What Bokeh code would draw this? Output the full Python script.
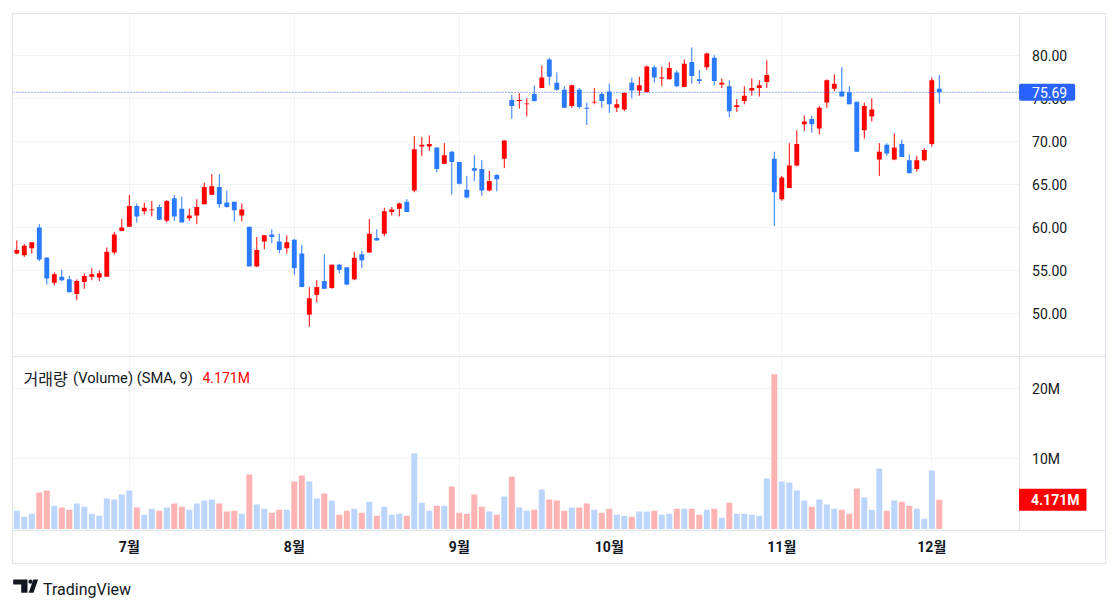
from bokeh.plotting import figure
from bokeh.models import (Range1d, FixedTicker, NumeralTickFormatter, Label, ColumnDataSource,
                          LinearAxis, Grid)
from bokeh.layouts import column
from bokeh.embed import file_html
from bokeh.resources import INLINE
from bokeh.core.properties import value

# ---- data ----
opens = [57.0, 56.8, 57.6, 60.0, 56.5, 53.6, 54.3, 54.0, 52.3, 53.7,
         54.3, 54.2, 54.3, 57.1, 59.6, 60.1, 62.5, 61.9, 62.0, 62.4,
         60.8, 63.4, 62.2, 61.1, 61.4, 62.7, 63.8, 64.7, 62.9, 63.0,
         61.4, 60.1, 55.5, 58.4, 59.2, 58.4, 57.6, 58.6, 57.0, 49.9,
         52.2, 53.8, 53.0, 55.7, 55.4, 54.0, 56.9, 57.1, 58.8, 59.3,
         61.8, 62.2, 63.0, 64.3, 69.4, 69.4, 69.3, 67.4, 68.8, 67.6,
         64.4, 66.9, 66.8, 64.3, 66.1, 68.0, 74.8, 74.7, 74.3, 75.5,
         76.2, 79.5, 76.8, 76.0, 74.1, 76.0, 73.9, 74.5, 75.5, 75.8,
         73.9, 73.7, 76.8, 75.9, 75.7, 78.6, 77.3, 77.2, 78.0, 76.3,
         79.2, 77.2, 78.6, 79.7, 76.6, 76.4, 74.0, 74.7, 75.9, 76.2,
         76.9, 68.0, 63.3, 64.6, 67.2, 72.0, 72.6, 71.5, 74.5, 76.1,
         75.8, 75.7, 74.6, 71.3, 72.9, 67.9, 69.6, 67.9, 69.7, 67.8,
         66.8, 67.8, 69.7, 76.1]
highs = [58.5, 58.1, 58.3, 60.4, 56.6, 54.8, 55.1, 54.4, 54.0, 54.7,
         55.3, 55.0, 57.7, 59.5, 61.0, 63.8, 62.8, 62.9, 63.1, 62.7,
         63.2, 63.8, 63.6, 62.2, 63.3, 65.2, 66.2, 66.2, 64.3, 63.0,
         62.8, 60.1, 58.9, 59.1, 59.8, 59.3, 59.1, 58.7, 58.0, 53.1,
         53.9, 56.9, 55.7, 55.8, 55.4, 57.2, 57.3, 61.0, 59.8, 62.3,
         62.4, 62.9, 63.3, 70.6, 70.5, 70.7, 69.3, 69.8, 68.9, 67.6,
         66.0, 68.4, 67.8, 66.6, 66.2, 70.1, 75.4, 75.6, 75.0, 76.5,
         78.8, 79.7, 78.0, 76.4, 76.6, 76.2, 74.5, 76.2, 75.7, 76.7,
         74.9, 75.7, 77.4, 77.5, 78.8, 78.8, 78.7, 79.2, 78.2, 79.5,
         80.9, 78.3, 80.3, 80.0, 77.3, 77.1, 74.9, 76.4, 77.3, 77.1,
         79.4, 68.8, 66.0, 69.8, 71.3, 73.0, 73.0, 74.1, 77.2, 77.8,
         78.6, 76.4, 74.6, 74.5, 75.0, 69.8, 69.8, 70.9, 70.2, 68.5,
         68.3, 69.2, 77.4, 77.7]
lows = [56.9, 56.6, 57.0, 56.1, 53.4, 53.3, 53.8, 52.5, 51.6, 52.9,
        53.9, 53.8, 54.3, 56.9, 59.6, 60.1, 60.6, 61.5, 61.3, 60.9,
        60.6, 60.8, 60.6, 60.8, 60.4, 62.7, 63.8, 62.3, 62.3, 60.7,
        60.7, 55.5, 55.4, 57.5, 58.2, 57.0, 57.0, 54.5, 53.1, 48.5,
        51.3, 52.9, 52.9, 54.7, 53.3, 53.9, 55.3, 57.1, 58.5, 59.0,
        61.4, 61.3, 61.8, 64.1, 68.3, 68.9, 66.4, 67.4, 63.8, 65.0,
        63.4, 65.4, 63.7, 64.2, 64.2, 66.9, 72.6, 73.8, 72.9, 74.6,
        76.2, 76.5, 75.9, 73.9, 73.9, 73.8, 71.9, 74.3, 73.9, 73.3,
        73.4, 73.5, 75.0, 75.3, 75.7, 76.8, 76.4, 77.2, 76.3, 76.3,
        76.7, 76.7, 78.3, 76.5, 76.2, 72.8, 73.4, 74.3, 75.3, 75.2,
        76.2, 60.2, 63.1, 64.6, 67.1, 71.2, 71.0, 70.8, 73.9, 75.8,
        75.2, 74.3, 68.8, 70.3, 72.3, 66.0, 68.3, 67.8, 68.2, 66.3,
        66.5, 67.7, 69.4, 74.4]
closes = [57.4, 57.9, 58.3, 56.3, 54.1, 54.6, 53.9, 52.5, 53.8, 54.4,
          54.6, 54.7, 57.2, 59.2, 60.0, 62.5, 61.3, 62.3, 62.1, 60.9,
          63.1, 61.3, 60.6, 61.4, 62.4, 64.7, 64.8, 62.7, 62.4, 62.0,
          62.1, 55.5, 57.4, 59.1, 58.9, 57.4, 58.3, 55.3, 53.1, 51.8,
          53.1, 52.9, 55.7, 55.1, 53.4, 56.5, 56.2, 59.3, 58.5, 61.9,
          62.1, 62.8, 61.8, 69.1, 69.6, 69.7, 66.8, 68.4, 67.6, 65.1,
          63.5, 66.6, 64.3, 65.4, 65.6, 70.1, 74.1, 74.8, 74.4, 74.7,
          77.4, 77.5, 76.0, 73.9, 76.5, 74.0, 73.8, 74.6, 74.7, 74.3,
          74.3, 75.6, 75.9, 76.5, 78.7, 77.4, 77.4, 78.5, 76.4, 79.0,
          77.6, 77.0, 80.2, 77.0, 76.8, 73.5, 74.2, 75.3, 76.2, 76.5,
          77.7, 64.1, 65.8, 67.2, 69.7, 72.3, 72.0, 73.9, 77.1, 76.7,
          75.2, 74.3, 68.8, 74.1, 73.7, 68.8, 68.6, 69.3, 68.2, 66.3,
          67.8, 69.0, 77.1, 75.69]
volumes_m = [2.62, 1.76, 2.19, 5.19, 5.48, 3.33, 3.05, 2.76, 3.62, 3.19,
             2.19, 1.90, 4.33, 4.19, 4.90, 5.48, 3.05, 2.05, 2.90, 2.62,
             3.05, 3.62, 3.19, 2.76, 3.62, 4.05, 4.19, 3.62, 2.48, 2.62,
             2.19, 7.76, 3.48, 2.90, 2.33, 2.76, 2.76, 6.76, 7.62, 6.76,
             4.33, 5.05, 4.05, 2.05, 2.62, 2.90, 2.33, 3.90, 1.90, 3.19,
             2.05, 2.19, 1.90, 10.76, 3.76, 2.62, 3.33, 3.33, 6.05, 2.33,
             2.19, 4.90, 3.19, 2.48, 2.05, 4.62, 7.48, 3.05, 2.62, 2.76,
             5.62, 4.19, 4.05, 2.62, 3.05, 3.05, 3.62, 2.76, 2.33, 2.90,
             2.05, 1.90, 1.76, 2.48, 2.48, 2.62, 2.05, 2.19, 2.90, 2.90,
             2.90, 2.05, 2.76, 2.90, 1.62, 3.76, 2.19, 2.19, 2.05, 1.90,
             7.19, 22.05, 6.76, 6.62, 5.48, 4.05, 3.19, 4.19, 3.48, 2.90,
             2.76, 2.19, 5.76, 4.48, 2.76, 8.62, 2.62, 4.05, 3.90, 3.33,
             2.90, 1.48, 8.33, 4.171]
month_ticks = [15, 37, 59, 79, 102, 122]
month_labels = ["7월", "8월", "9월", "10월", "11월", "12월"]
price_ticks = [50, 55, 60, 65, 70, 75, 80]
volume_ticks = [10, 20]
volume_tick_labels = ["10M", "20M"]
last_price = 75.69
last_volume = 4.171
legend_name = "거래량"
legend_detail = "(Volume) (SMA, 9)"
legend_value = "4.171M"

# ---- styles ----
UP = "#ff0000"
DOWN = "#2a7aff"
VUP = "#bcd5fc"
VDOWN = "#ffb3b3"
GRID = "#f0f3fa"
BORDER = "#e0e3eb"
TEXT = "#131722"
FONT = "Roboto, 'Noto Sans CJK KR'"

n = len(opens)
xs = list(range(n))
is_up = [c >= o for o, c in zip(opens, closes)]
src = ColumnDataSource(dict(
    x=xs, o=opens, h=highs, l=lows, c=closes,
    top=[max(o, c) for o, c in zip(opens, closes)],
    bottom=[min(o, c) for o, c in zip(opens, closes)],
    color=[UP if u else DOWN for u in is_up],
    vol=volumes_m,
    vcolor=[VUP if u else VDOWN for u in is_up],
))

# x scale: frame spans the whole chart incl. the price-scale strip on the right
xr = Range1d(-0.44, 145.16)
scale_x = 133.63  # where the price scale starts (right edge of the plotting area)
has_cross = "cross_bounds" in Grid.properties()


def style_value_axis(ax):
    ax.axis_line_color = BORDER
    ax.major_tick_line_color = None
    ax.minor_tick_line_color = None
    ax.major_tick_out = 0
    ax.major_tick_in = 0
    ax.major_label_standoff = 13
    ax.major_label_text_font = "Roboto"
    ax.major_label_text_font_size = "14px"
    ax.major_label_text_color = TEXT


def hgrid(fig, ticks):
    for g in fig.ygrid:
        g.ticker = FixedTicker(ticks=ticks)
        if g.axis is not None:
            g.axis.ticker = FixedTicker(ticks=ticks)
        g.grid_line_color = GRID
        if has_cross:
            g.cross_bounds = (xr.start, scale_x)
    if not has_cross:
        for g in fig.ygrid:
            g.visible = False
        fig.segment(x0=[xr.start] * len(ticks), x1=[scale_x] * len(ticks), y0=ticks, y1=ticks,
                    line_color=GRID, line_width=1)


def vgrid(fig):
    for g in fig.xgrid:
        g.ticker = FixedTicker(ticks=month_ticks)
        if g.axis is not None:
            g.axis.ticker = FixedTicker(ticks=month_ticks)
        g.grid_line_color = GRID


# ---- price pane ----
p = figure(width=1092, height=342, x_range=xr, y_range=Range1d(45.05, 84.72),
           output_backend="svg", toolbar_location=None,
           x_axis_location=None, y_axis_location=None,
           min_border_left=0, min_border_right=0, min_border_top=0, min_border_bottom=0,
           outline_line_color=None, background_fill_color="white", border_fill_color="white")
vgrid(p)
hgrid(p, price_ticks)
ya = LinearAxis(ticker=FixedTicker(ticks=price_ticks), formatter=NumeralTickFormatter(format="0.00"),
                fixed_location=scale_x)
style_value_axis(ya)
p.add_layout(ya, "right")

p.segment(x0="x", y0="l", x1="x", y1="h", line_color="color", line_width=1, source=src)
p.vbar(x="x", width=0.65, top="top", bottom="bottom", fill_color="color", line_color=None, source=src)

p.segment(x0=[xr.start], x1=[scale_x], y0=[last_price], y1=[last_price],
          line_color="#2962ff", line_dash="1 2", line_width=1)
p.add_layout(Label(x=scale_x, y=last_price, x_units="data", y_units="data", text=f"{last_price:.2f}",
                   text_color="white", text_font="Roboto", text_font_size="14px",
                   text_align="left", text_baseline="middle",
                   background_fill_color="#2962ff", padding=(13, 8, 3, 3), border_radius=2))

# ---- volume pane ----
v = figure(width=1092, height=207, x_range=xr, y_range=Range1d(-0.21, 24.43),
           output_backend="svg", toolbar_location=None,
           x_axis_location="below", y_axis_location=None,
           min_border_left=0, min_border_right=0, min_border_top=0, min_border_bottom=34,
           outline_line_color=None, background_fill_color="white", border_fill_color="white",
           styles={"border-top": f"1px solid {BORDER}"})
vgrid(v)
hgrid(v, volume_ticks)
xa = v.xaxis[0]
xa.ticker = FixedTicker(ticks=month_ticks)
xa.major_label_overrides = {t: lbl for t, lbl in zip(month_ticks, month_labels)}
xa.axis_line_color = BORDER
xa.major_tick_line_color = None
xa.minor_tick_line_color = None
xa.major_tick_out = 0
xa.major_label_standoff = 8
xa.major_label_text_font = FONT
xa.major_label_text_font_style = "bold"
xa.major_label_text_font_size = "14px"
xa.major_label_text_color = TEXT
vya = LinearAxis(ticker=FixedTicker(ticks=volume_ticks), fixed_location=scale_x)
vya.major_label_overrides = {t: lbl for t, lbl in zip(volume_ticks, volume_tick_labels)}
style_value_axis(vya)
v.add_layout(vya, "right")

v.vbar(x="x", width=0.8, top="vol", bottom=0, fill_color="vcolor", line_color=None, source=src)

v.add_layout(Label(x=10, y=153, x_units="screen", y_units="screen", text=legend_name,
                   text_color=TEXT, text_font="Noto Sans CJK KR", text_font_size="16px",
                   text_align="left", text_baseline="middle"))
v.add_layout(Label(x=59.5, y=153, x_units="screen", y_units="screen", text=legend_detail,
                   text_color=TEXT, text_font="Roboto", text_font_size="14.7px",
                   text_align="left", text_baseline="middle"))
v.add_layout(Label(x=189, y=153, x_units="screen", y_units="screen", text=legend_value,
                   text_color="#ff0000", text_font="Roboto", text_font_size="14px",
                   text_align="left", text_baseline="middle"))
v.add_layout(Label(x=scale_x, y=last_volume, x_units="data", y_units="data", text=legend_value,
                   text_color="white", text_font="Roboto", text_font_size="14px",
                   text_font_style="bold", text_align="left", text_baseline="middle",
                   background_fill_color="#ff0000", padding=(12, 7, 3, 3)))

wrapper = column(p, v, margin=(13, 0, 0, 12), styles={"border": f"1px solid {BORDER}"})

# ---- logo strip ----
lg = figure(width=200, height=44, x_range=Range1d(0, 200), y_range=Range1d(44, 0),
            output_backend="svg", toolbar_location=None, x_axis_location=None, y_axis_location=None,
            min_border=0, outline_line_color=None, background_fill_color="white", border_fill_color="white")
lg.grid.visible = False
lg.patch(x=[12.7, 27.0, 27.0, 20.7, 20.7, 12.7], y=[15, 15, 28.3, 28.3, 20, 20], fill_color=TEXT, line_color=None)
lg.circle(x=[30.0], y=[17.2], radius=2.1, fill_color=TEXT, line_color=None)
lg.patch(x=[32.8, 37.6, 33.0, 28.2], y=[15, 15, 28.3, 28.3], fill_color=TEXT, line_color=None)
lg.text(x=[42.5], y=[25.0], text=["TradingView"], text_font=value("Roboto"), text_font_size="16px",
        text_color=TEXT, text_baseline="alphabetic", text_align="left")

layout = column(wrapper, lg)
open("out.html", "w").write(file_html(layout, INLINE))
